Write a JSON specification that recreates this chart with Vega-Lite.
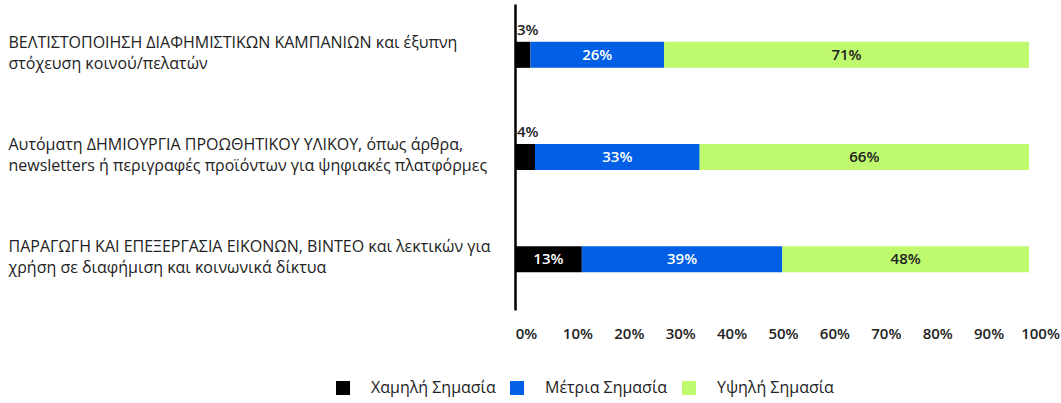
{
  "$schema": "https://vega.github.io/schema/vega-lite/v6.json",
  "autosize": {"type": "none"},
  "width": 514,
  "height": 306,
  "padding": {"left": 515, "top": 4, "right": 32, "bottom": 93},
  "config": {
    "view": {"stroke": null},
    "font": "Open Sans",
    "axis": {"labelFont": "Open Sans", "labelColor": "#222"},
    "legend": {"labelFont": "Open Sans", "labelColor": "#222"}
  },
  "data": {
    "values": [
      {"cat": "ΒΕΛΤΙΣΤΟΠΟΙΗΣΗ ΔΙΑΦΗΜΙΣΤΙΚΩΝ ΚΑΜΠΑΝΙΩΝ και έξυπνη|στόχευση κοινού/πελατών", "level": "Χαμηλή Σημασία", "order": 1, "value": 3},
      {"cat": "ΒΕΛΤΙΣΤΟΠΟΙΗΣΗ ΔΙΑΦΗΜΙΣΤΙΚΩΝ ΚΑΜΠΑΝΙΩΝ και έξυπνη|στόχευση κοινού/πελατών", "level": "Μέτρια Σημασία", "order": 2, "value": 26},
      {"cat": "ΒΕΛΤΙΣΤΟΠΟΙΗΣΗ ΔΙΑΦΗΜΙΣΤΙΚΩΝ ΚΑΜΠΑΝΙΩΝ και έξυπνη|στόχευση κοινού/πελατών", "level": "Υψηλή Σημασία", "order": 3, "value": 71},
      {"cat": "Αυτόματη ΔΗΜΙΟΥΡΓΙΑ ΠΡΟΩΘΗΤΙΚΟΥ ΥΛΙΚΟΥ, όπως άρθρα,|newsletters ή περιγραφές προϊόντων για ψηφιακές πλατφόρμες", "level": "Χαμηλή Σημασία", "order": 1, "value": 4},
      {"cat": "Αυτόματη ΔΗΜΙΟΥΡΓΙΑ ΠΡΟΩΘΗΤΙΚΟΥ ΥΛΙΚΟΥ, όπως άρθρα,|newsletters ή περιγραφές προϊόντων για ψηφιακές πλατφόρμες", "level": "Μέτρια Σημασία", "order": 2, "value": 33},
      {"cat": "Αυτόματη ΔΗΜΙΟΥΡΓΙΑ ΠΡΟΩΘΗΤΙΚΟΥ ΥΛΙΚΟΥ, όπως άρθρα,|newsletters ή περιγραφές προϊόντων για ψηφιακές πλατφόρμες", "level": "Υψηλή Σημασία", "order": 3, "value": 66},
      {"cat": "ΠΑΡΑΓΩΓΗ ΚΑΙ ΕΠΕΞΕΡΓΑΣΙΑ ΕΙΚΟΝΩΝ, ΒΙΝΤΕΟ και λεκτικών για|χρήση σε διαφήμιση και κοινωνικά δίκτυα", "level": "Χαμηλή Σημασία", "order": 1, "value": 13},
      {"cat": "ΠΑΡΑΓΩΓΗ ΚΑΙ ΕΠΕΞΕΡΓΑΣΙΑ ΕΙΚΟΝΩΝ, ΒΙΝΤΕΟ και λεκτικών για|χρήση σε διαφήμιση και κοινωνικά δίκτυα", "level": "Μέτρια Σημασία", "order": 2, "value": 39},
      {"cat": "ΠΑΡΑΓΩΓΗ ΚΑΙ ΕΠΕΞΕΡΓΑΣΙΑ ΕΙΚΟΝΩΝ, ΒΙΝΤΕΟ και λεκτικών για|χρήση σε διαφήμιση και κοινωνικά δίκτυα", "level": "Υψηλή Σημασία", "order": 3, "value": 48}
    ]
  },
  "transform": [
    {"stack": "value", "groupby": ["cat"], "sort": [{"field": "order"}], "offset": "normalize", "as": ["v0", "v1"]},
    {"calculate": "(datum.v0 + datum.v1) / 2", "as": "mid"},
    {"calculate": "datum.value + '%'", "as": "label"}
  ],
  "encoding": {
    "y": {
      "field": "cat", "type": "nominal", "sort": null, "title": null,
      "scale": {"paddingInner": 0.745, "paddingOuter": 0.37},
      "axis": {
        "labelExpr": "split(datum.label, '|')",
        "labelAlign": "left", "labelBaseline": "middle", "labelPadding": 507, "labelOffset": -12,
        "labelLimit": 0, "labelFontSize": 16, "labelLineHeight": 21,
        "ticks": false, "domainColor": "#000", "domainWidth": 2.5, "grid": false
      }
    }
  },
  "layer": [
    {
      "mark": {"type": "bar"},
      "encoding": {
        "x": {
          "field": "v0", "type": "quantitative", "title": null,
          "scale": {"domain": [0, 1], "nice": false},
          "axis": {
            "values": [0, 0.1, 0.2, 0.3, 0.4, 0.5, 0.6, 0.7, 0.8, 0.9, 1],
            "labelExpr": "round(datum.value * 100) + '%'",
            "domain": false, "ticks": false, "grid": false,
            "labelPadding": 16, "labelFontSize": 15, "labelFontWeight": 600,
            "labelFlush": false, "labelOffset": 11
          }
        },
        "x2": {"field": "v1"},
        "color": {
          "field": "level", "type": "nominal",
          "sort": ["Χαμηλή Σημασία", "Μέτρια Σημασία", "Υψηλή Σημασία"],
          "scale": {"domain": ["Χαμηλή Σημασία", "Μέτρια Σημασία", "Υψηλή Σημασία"], "range": ["#000000", "#005FE5", "#BEF96E"]},
          "legend": {
            "title": null, "orient": "none", "direction": "horizontal",
            "legendX": -180, "legendY": 376,
            "symbolType": "square", "symbolSize": 196, "symbolStrokeWidth": 0,
            "labelFontSize": 16, "labelOffset": 20, "columnPadding": 13
          }
        }
      }
    },
    {
      "transform": [{"filter": "datum.value >= 5"}],
      "mark": {"type": "text", "fontSize": 15, "fontWeight": 600, "baseline": "middle"},
      "encoding": {
        "x": {"field": "mid", "type": "quantitative"},
        "text": {"field": "label"},
        "color": {
          "condition": {"test": "datum.level == 'Υψηλή Σημασία'", "value": "#222"},
          "value": "#ffffff"
        }
      }
    },
    {
      "transform": [{"filter": "datum.value < 5"}],
      "mark": {"type": "text", "fontSize": 15, "fontWeight": 600, "baseline": "middle", "align": "left", "dx": 2, "dy": -25, "color": "#222"},
      "encoding": {
        "x": {"field": "v0", "type": "quantitative"},
        "text": {"field": "label"}
      }
    }
  ]
}
